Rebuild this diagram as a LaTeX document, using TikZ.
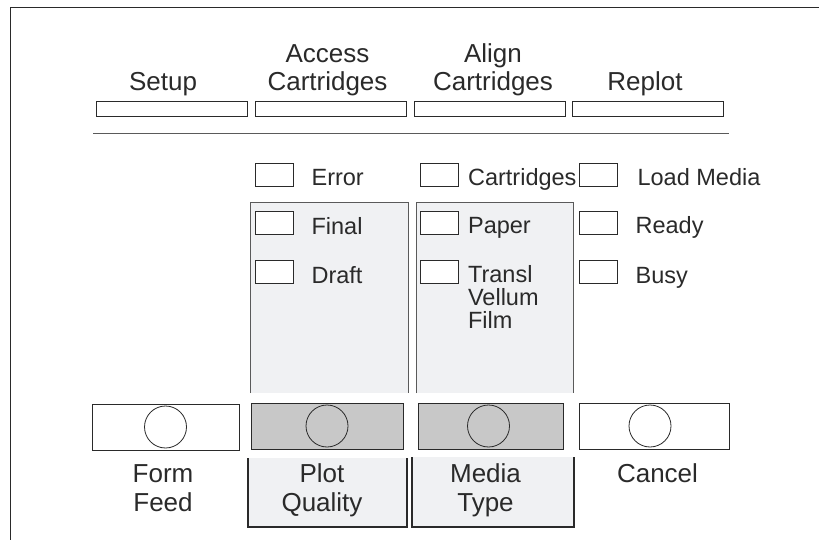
\documentclass[tikz,border=0pt]{standalone}
\usepackage{fontspec}
\setmainfont{Liberation Sans}
\usetikzlibrary{positioning}
\definecolor{ink}{HTML}{2A2A2A}
\definecolor{rulegray}{HTML}{5A5A5A}
\definecolor{paneltint}{HTML}{F0F1F3}
\definecolor{keygray}{HTML}{C8C8C8}
\tikzset{
  softkey/.style={rectangle,draw=ink,line width=0.8pt,minimum width=151pt,minimum height=15pt,inner sep=0pt},
  lamp/.style={rectangle,draw=ink,line width=0.8pt,fill=white,minimum width=38pt,minimum height=23pt,inner sep=0pt},
  lampname/.style={inner sep=0pt,anchor=base west,text=ink,font=\fontsize{23.5}{23}\selectfont,align=left},
  keyname/.style={inner sep=0pt,anchor=base,text=ink,font=\fontsize{26}{28.5}\selectfont,align=center},
  pushkey/.style={rectangle,draw=ink,line width=0.8pt,fill=white,minimum height=46pt,inner sep=0pt},
  graykey/.style={pushkey,fill=keygray},
  dial/.style={circle,draw=ink,line width=0.8pt,minimum size=42pt,inner sep=0pt},
  panelfill/.style={fill=paneltint},
  upperedge/.style={draw=rulegray,line width=0.8pt},
  loweredge/.style={draw=ink,line width=1.6pt}
}
\begin{document}
\begin{tikzpicture}[x=1pt,y=-1pt]
  \useasboundingbox (0,0) rectangle (819,540);
  % frame
  \draw[ink,line width=0.8pt] (10,540) |- (819,7);
  % soft keys along the top
  \node[softkey] (setup)  at (171.5,108.5) {};
  \node[softkey] (access) at (330.5,108.5) {};
  \node[softkey] (align)  at (489.5,108.5) {};
  \node[softkey] (replot) at (648,108.5) {};
  \node[keyname] (setuptxt)  at (163,91)   {Setup};
  \node[keyname] (accesstxt) at (327.5,91) {Access\\Cartridges};
  \node[keyname] (aligntxt)  at (493,91)   {Align\\Cartridges};
  \node[keyname] (replottxt) at (645,91)   {Replot};
  \draw[rulegray,line width=1pt] (93,134) -- (729,134);
  % option panels
  \fill[panelfill] (250,202) rectangle (408,393);
  \draw[upperedge] (250,393) |- (408,202) -- (408,393);
  \fill[panelfill] (416,202) rectangle (573,393);
  \draw[upperedge] (416,393) |- (573,202) -- (573,393);
  \fill[panelfill] (248,458) rectangle (407,527);
  \draw[loweredge] (248,458) |- (407,527) -- (407,458);
  \fill[panelfill] (412,457) rectangle (574,527);
  \draw[loweredge] (412,457) |- (574,527) -- (574,457);
  % status lamps
  \node[lamp] (error) at (274,174.5) {};
  \node[lamp,below=25pt of error] (final) {};
  \node[lamp,below=25pt of final] (draft) {};
  \node[lamp] (cart) at (439.5,174.5) {};
  \node[lamp,below=25pt of cart] (paper) {};
  \node[lamp,below=25pt of paper] (transl) {};
  \node[lamp] (load) at (598,174.5) {};
  \node[lamp,below=25pt of load] (ready) {};
  \node[lamp,below=25pt of ready] (busy) {};
  \node[lampname] (errortxt) at ([xshift=18pt,yshift=1pt]error.south east) {Error};
  \node[lampname] (finaltxt) at ([xshift=18pt,yshift=1pt]final.south east) {Final};
  \node[lampname] (drafttxt) at ([xshift=18pt,yshift=1pt]draft.south east) {Draft};
  \node[lampname] (carttxt) at ([xshift=9pt,yshift=1pt]cart.south east) {Cartridges};
  \node[lampname] (papertxt) at ([xshift=9pt,yshift=2pt]paper.south east) {Paper};
  \node[lampname] (transltxt) at ([xshift=9pt,yshift=-44pt]transl.south east) {Transl\\Vellum\\Film};
  \node[lampname] (loadtxt) at ([xshift=20pt,yshift=1pt]load.south east) {Load Media};
  \node[lampname] (readytxt) at ([xshift=18pt,yshift=2pt]ready.south east) {Ready};
  \node[lampname] (busytxt) at ([xshift=18pt,yshift=1pt]busy.south east) {Busy};
  % front keys
  \node[pushkey,minimum width=147pt] (feed) at (165.5,427) {};
  \node[graykey,minimum width=152pt] (quality) at (327,426) {};
  \node[graykey,minimum width=145pt] (media) at (490.5,426) {};
  \node[pushkey,minimum width=150pt] (cancel) at (654,426) {};
  \node[dial] (feeddial) at (feed) {};
  \node[dial] (qualitydial) at (quality) {};
  \node[dial] (mediadial) at ([xshift=-2pt]media.center) {};
  \node[dial] (canceldial) at ([xshift=-4pt]cancel.center) {};
  \node[keyname] (feedtxt)    at (163,511)   {Form\\Feed};
  \node[keyname] (qualitytxt) at (322,511)   {Plot\\Quality};
  \node[keyname] (mediatxt)   at (485.5,511) {Media\\Type};
  \node[keyname] (canceltxt)  at (657.5,482) {Cancel};
\end{tikzpicture}
\end{document}
